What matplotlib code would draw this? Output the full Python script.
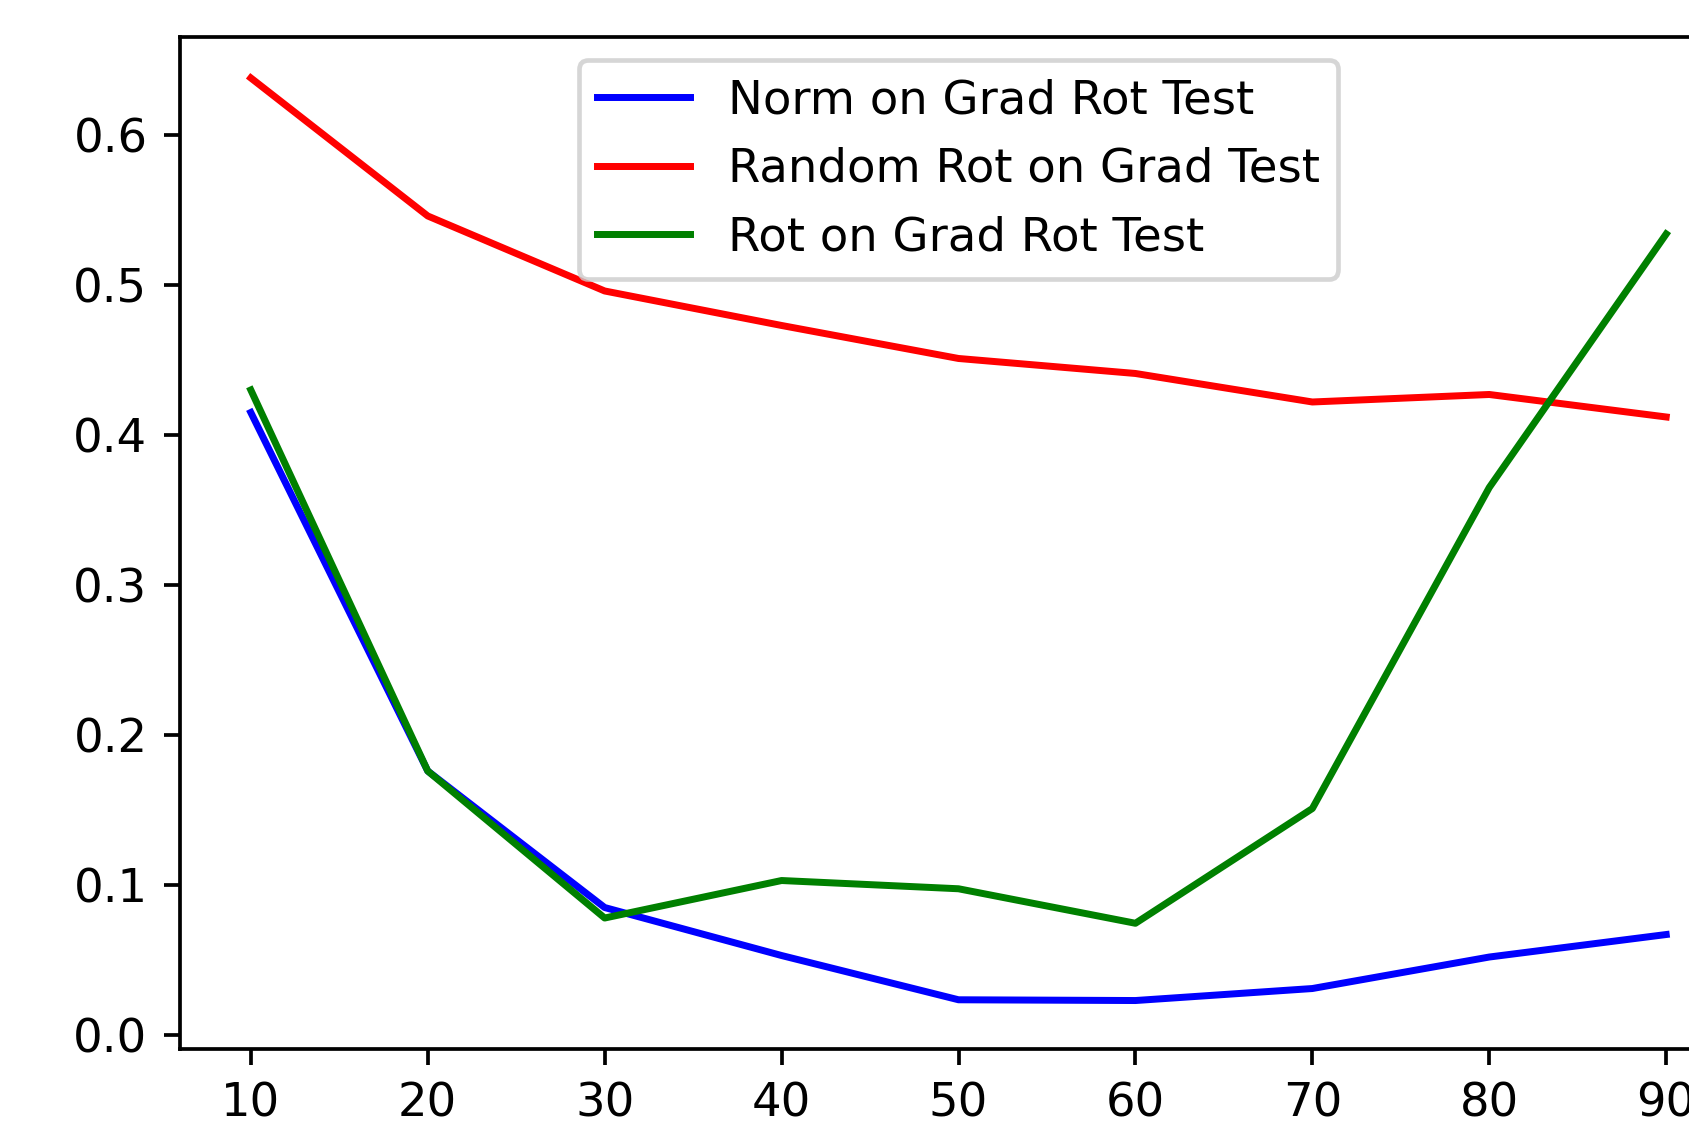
import matplotlib
matplotlib.use("Agg")
import matplotlib.pyplot as plt

# rotation angle (degrees) used for the test set
angles = [10, 20, 30, 40, 50, 60, 70, 80, 90]

# values
norm_on_grad_rot = [0.415, 0.176, 0.085, 0.053, 0.0235, 0.023, 0.031, 0.052, 0.067]
random_rot_on_grad = [0.638, 0.546, 0.496, 0.473, 0.451, 0.441, 0.422, 0.427, 0.412]
rot_on_grad_rot = [0.430, 0.176, 0.078, 0.103, 0.0975, 0.0745, 0.151, 0.365, 0.534]

DPI = 335  # the reference is a 72 dpi notebook figure blown up ~4.65x
fig = plt.figure(figsize=(1689 / DPI, 1126 / DPI), dpi=DPI)
# axes runs past the right edge, like the cropped original
ax = fig.add_axes([0.1066, 0.0684, 0.9218, 0.899])

ax.plot(angles, norm_on_grad_rot, color='b', label='Norm on Grad Rot Test')
ax.plot(angles, random_rot_on_grad, color='r', label='Random Rot on Grad Test')
ax.plot(angles, rot_on_grad_rot, color='g', label='Rot on Grad Rot Test')

ax.set_xticks(angles)
ax.set_ylim(-0.0093, 0.6655)
ax.legend(loc='upper center')

fig.savefig('out.png', dpi=DPI)
